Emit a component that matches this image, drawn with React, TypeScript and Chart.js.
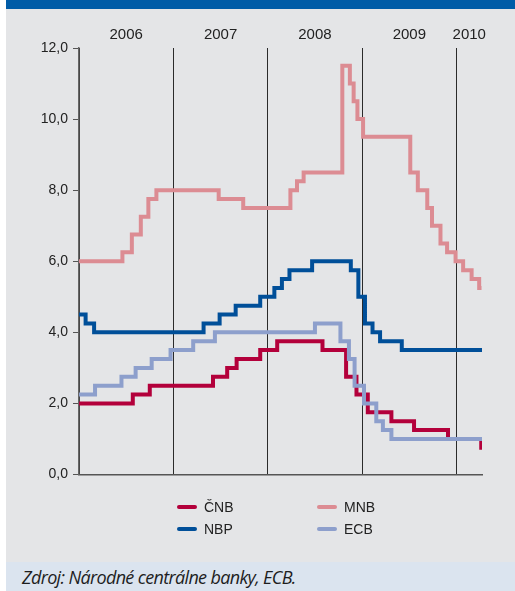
import React, { useEffect, useRef } from 'react';
import { Chart, registerables } from 'chart.js';

Chart.register(...registerables);

// ---- data (decimal years, policy rates in %) ----
const seriesNames = ['ČNB', 'MNB', 'NBP', 'ECB'];
const seriesColors = ['#b3003b', '#dc8c93', '#004f99', '#8d9fcc'];

const cnbDates = [2006.0, 2006.57, 2006.75, 2007.42, 2007.57, 2007.67, 2007.92, 2008.1, 2008.58, 2008.83, 2008.94, 2009.06, 2009.31, 2009.55, 2009.91, 2010.262, 2010.27];
const cnbRates = [2.0, 2.25, 2.5, 2.75, 3.0, 3.25, 3.5, 3.75, 3.5, 2.75, 2.25, 1.75, 1.5, 1.25, 1.0, 0.75, 0.75];

const mnbDates = [2006.0, 2006.46, 2006.56, 2006.655, 2006.735, 2006.82, 2007.48, 2007.74, 2008.24, 2008.31, 2008.38, 2008.79, 2008.87, 2008.91, 2008.95, 2009.01, 2009.51, 2009.59, 2009.69, 2009.74, 2009.83, 2009.9, 2009.99, 2010.07, 2010.16, 2010.24, 2010.265];
const mnbRates = [6.0, 6.25, 6.75, 7.25, 7.75, 8.0, 7.75, 7.5, 8.0, 8.25, 8.5, 11.5, 11.0, 10.5, 10.0, 9.5, 8.5, 8.0, 7.5, 7.0, 6.5, 6.25, 6.0, 5.75, 5.5, 5.25, 5.25];

const nbpDates = [2006.0, 2006.07, 2006.16, 2007.32, 2007.49, 2007.66, 2007.92, 2008.07, 2008.15, 2008.23, 2008.47, 2008.88, 2008.96, 2009.03, 2009.11, 2009.19, 2009.42, 2010.27];
const nbpRates = [4.5, 4.25, 4.0, 4.25, 4.5, 4.75, 5.0, 5.25, 5.5, 5.75, 6.0, 5.75, 5.0, 4.25, 4.0, 3.75, 3.5, 3.5];

const ecbDates = [2006.0, 2006.17, 2006.45, 2006.6, 2006.77, 2006.97, 2007.21, 2007.44, 2008.5, 2008.77, 2008.86, 2008.92, 2009.02, 2009.15, 2009.22, 2009.31, 2010.27];
const ecbRates = [2.25, 2.5, 2.75, 3.0, 3.25, 3.5, 3.75, 4.0, 4.25, 3.75, 3.25, 2.5, 2.0, 1.5, 1.25, 1.0, 1.0];

const yearLabels = ['2006', '2007', '2008', '2009', '2010'];
const yearLabelPositions = [2006.5, 2007.5, 2008.5, 2009.5, 2010.135];
const yearBoundaries = [2006, 2007, 2008, 2009, 2010];
const yTicks = [0, 2, 4, 6, 8, 10, 12];
const xMin = 2006;
const xMax = 2010.27;
const yMin = 0;
const yMax = 12;
const sourceText = 'Zdroj: Národné centrálne banky, ECB.';

const seriesDates = [cnbDates, mnbDates, nbpDates, ecbDates];
const seriesRates = [cnbRates, mnbRates, nbpRates, ecbRates];

const FONT = '"Liberation Sans", Arial, sans-serif';

export default function App() {
  const canvasRef = useRef<HTMLCanvasElement | null>(null);

  useEffect(() => {
    const canvas = canvasRef.current;
    if (!canvas) return;
    const datasets = seriesNames.map((name, i) => ({
      label: name,
      data: seriesDates[i].map((x, j) => ({ x, y: seriesRates[i][j] })),
      borderColor: seriesColors[i],
      backgroundColor: seriesColors[i],
      borderWidth: 4,
      pointRadius: 0,
      pointHoverRadius: 0,
      stepped: true as const,
      fill: false,
      tension: 0,
      borderCapStyle: 'butt' as const,
      borderJoinStyle: 'miter' as const,
      order: name === 'ECB' ? 0 : 1,
    }));

    const chart = new Chart(canvas, {
      type: 'line',
      data: { datasets },
      options: {
        animation: false,
        responsive: false,
        maintainAspectRatio: false,
        layout: { padding: { left: 0, right: 33, top: 0, bottom: 0 } },
        plugins: { legend: { display: false }, tooltip: { enabled: false } },
        scales: {
          x: {
            type: 'linear',
            position: 'bottom',
            min: xMin,
            max: xMax,
            afterBuildTicks: (s: any) => {
              s.ticks = yearBoundaries.map((v) => ({ value: v }));
            },
            ticks: { display: false },
            grid: { display: true, color: '#2b2b2b', lineWidth: 1, drawTicks: false, drawOnChartArea: true },
            border: { display: true, color: '#555', width: 1.5 },
            afterFit: (s: any) => {
              s.height = 87.5;
            },
          },
          xTop: {
            type: 'linear',
            position: 'top',
            min: xMin,
            max: xMax,
            afterBuildTicks: (s: any) => {
              s.ticks = yearLabelPositions.map((v) => ({ value: v }));
            },
            ticks: {
              autoSkip: false,
              maxRotation: 0,
              padding: 4,
              color: '#222',
              font: { family: FONT, size: 15 },
              callback: (_v: any, i: number) => yearLabels[i],
            },
            grid: { display: false, drawTicks: false },
            border: { display: false },
            afterFit: (s: any) => {
              s.height = 39;
            },
          },
          y: {
            type: 'linear',
            min: yMin,
            max: yMax,
            afterBuildTicks: (s: any) => {
              s.ticks = yTicks.map((v) => ({ value: v }));
            },
            ticks: {
              padding: 5,
              color: '#222',
              font: { family: FONT, size: 14 },
              callback: (v: any) => Number(v).toFixed(1).replace('.', ','),
            },
            grid: { drawOnChartArea: false, drawTicks: true, tickLength: 6, color: '#555', lineWidth: 1 },
            border: { display: true, color: '#666', width: 1.5 },
            afterFit: (s: any) => {
              s.width = 73;
            },
          },
        },
      },
    });
    return () => chart.destroy();
  }, []);

  return (
    <div style={{ position: 'absolute', left: 0, top: 0, width: 515, height: 591, background: '#fff', overflow: 'hidden' }}>
      <div style={{ position: 'absolute', left: 6, top: 0, width: 509, height: 9, background: '#005ca7' }} />
      <div style={{ position: 'absolute', left: 6, top: 9, width: 509, height: 553, background: '#e4e5e7' }}>
        <canvas ref={canvasRef} width={509} height={553} style={{ display: 'block', width: 509, height: 553 }} />
      </div>
      {seriesNames.map((name, i) => {
        const col = i % 2;
        const row = Math.floor(i / 2);
        const left = 177 + col * 140;
        const cy = 507 + row * 22;
        return (
          <div key={name} style={{ position: 'absolute', left, top: cy - 10, height: 20, display: 'flex', alignItems: 'center', fontFamily: FONT, fontSize: 14, color: '#222', whiteSpace: 'nowrap' }}>
            <span style={{ display: 'inline-block', width: 20, height: 4, borderRadius: 2, background: seriesColors[i], marginRight: 7 }} />
            <span>{name}</span>
          </div>
        );
      })}
      <div style={{ position: 'absolute', left: 6, top: 562, width: 509, height: 29, background: '#dbe4ef' }} />
      <div style={{ position: 'absolute', left: 22, top: 564, height: 26, lineHeight: '26px', fontFamily: '"Open Sans", sans-serif', fontStyle: 'italic', fontSize: 18, letterSpacing: -0.65, color: '#1e1e1e', whiteSpace: 'nowrap' }}>
        {sourceText}
      </div>
    </div>
  );
}
